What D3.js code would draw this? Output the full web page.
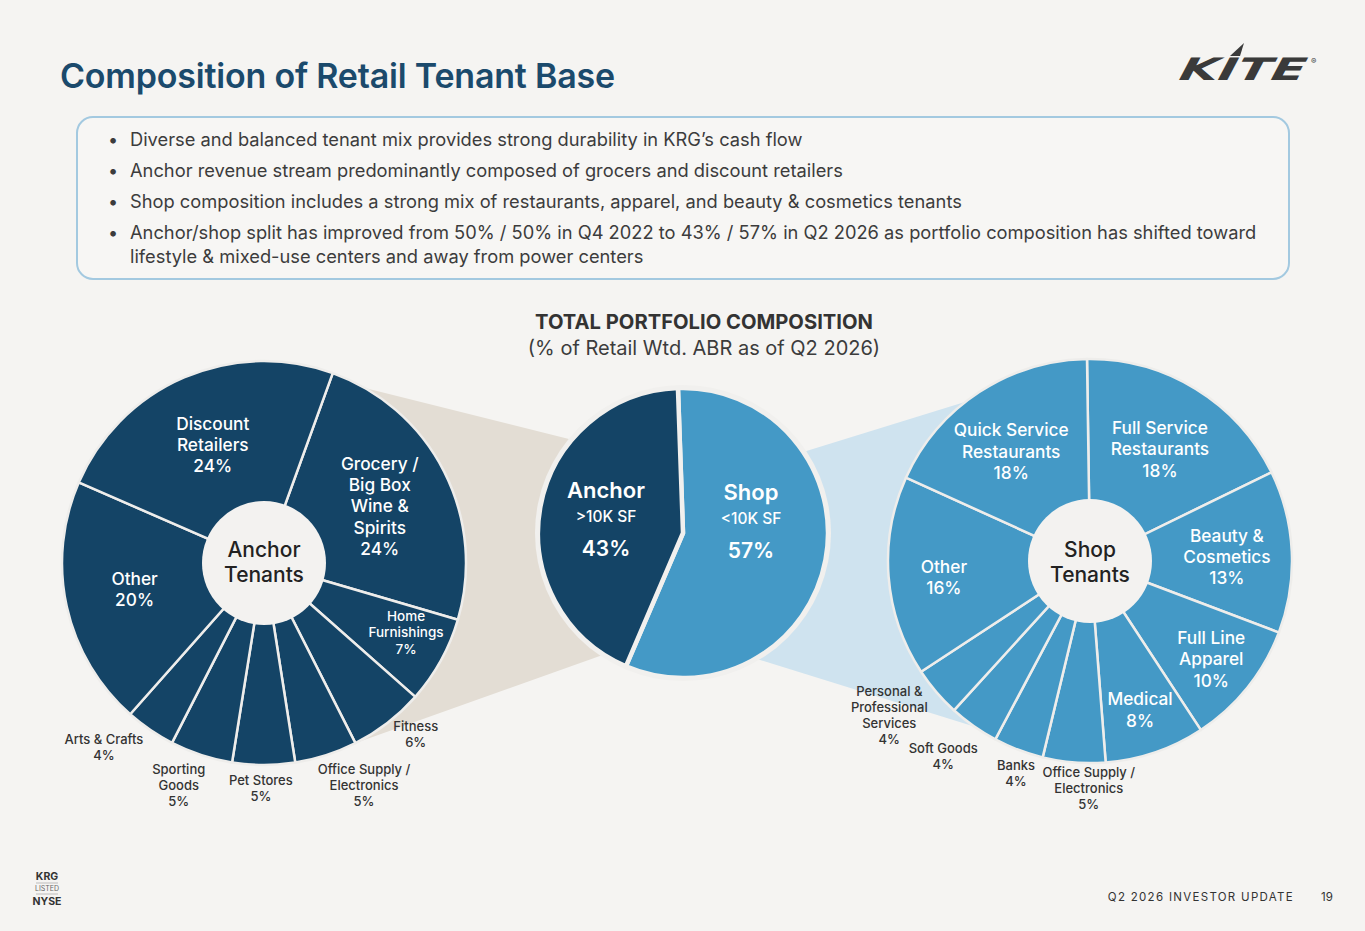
<!DOCTYPE html>
<html><head><meta charset="utf-8">
<script src="https://cdn.jsdelivr.net/npm/d3@7"></script>
<style>
html,body{margin:0;padding:0;background:#f5f4f2;}
svg{display:block;font-family:Inter,"Open Sans",sans-serif;}
</style></head>
<body><svg id="c" width="1365" height="931"></svg>
<script>
// ---------- data ----------
const titleText = "Composition of Retail Tenant Base";
const bullets = [
  ["Diverse and balanced tenant mix provides strong durability in KRG\u2019s cash flow"],
  ["Anchor revenue stream predominantly composed of grocers and discount retailers"],
  ["Shop composition includes a strong mix of restaurants, apparel, and beauty & cosmetics tenants"],
  ["Anchor/shop split has improved from 50% / 50% in Q4 2022 to 43% / 57% in Q2 2026 as portfolio composition has shifted toward","lifestyle & mixed-use centers and away from power centers"]
];
const splitNames = ["Shop", "Anchor"];
const splitSub = ["<10K SF", ">10K SF"];
const splitValues = [57, 43];

const anchorNames = ["Grocery / Big Box Wine & Spirits","Home Furnishings","Fitness","Office Supply / Electronics","Pet Stores","Sporting Goods","Arts & Crafts","Other","Discount Retailers"];
const anchorLines = [["Grocery /","Big Box","Wine &","Spirits"],["Home","Furnishings"],["Fitness"],["Office Supply /","Electronics"],["Pet Stores"],["Sporting","Goods"],["Arts & Crafts"],["Other"],["Discount","Retailers"]];
const anchorValues = [24,7,6,5,5,5,4,20,24];

const shopNames = ["Full Service Restaurants","Beauty & Cosmetics","Full Line Apparel","Medical","Office Supply / Electronics","Banks","Soft Goods","Personal & Professional Services","Other","Quick Service Restaurants"];
const shopLines = [["Full Service","Restaurants"],["Beauty &","Cosmetics"],["Full Line","Apparel"],["Medical"],["Office Supply /","Electronics"],["Banks"],["Soft Goods"],["Personal &","Professional","Services"],["Other"],["Quick Service","Restaurants"]];
const shopValues = [18,13,10,8,5,4,4,4,16,18];

// ---------- layout / style ----------
const C = {bg:"#f5f4f2", navy:"#144466", blue:"#4499c6", beige:"#e3ddd4", lightBlue:"#cfe3ef", title:"#1b4a6c", text:"#3c3c3c", inner:"#f3f2f0"};
const deg = Math.PI/180;
const L = {cx:264, cy:563, r:202, ri:62, start:19.9*deg};
const R = {cx:1090, cy:561, r:202, ri:62, start:-0.85*deg};
const M = {cx:683, cy:533, r:145, start:-2*deg};
// label polar placement [angle deg, radius, font size, inside?]
const anchorLab = [[63.8,129,17.3,1],[116,158,13.5,1],[138.5,229,13,0],[155.8,244,13,0],[180.8,225,13,0],[201,238,13,0],[221,244,13,0],[258.6,132,17.3,1],[336.6,129,17.3,1]];
const shopLab = [[32,132,17.3,1],[88.3,137,17.3,1],[129,156,17.3,1],[161.4,157,17.3,1],[180.3,227,13,0],[199.2,225,13,0],[217,244,13,0],[232.5,253,13,0],[263.7,147,17.3,1],[324.3,135,17.3,1]];

const svg = d3.select("#c");
svg.append("rect").attr("width",1365).attr("height",931).attr("fill",C.bg);

// title
svg.append("text").attr("x",60).attr("y",88).attr("fill",C.title)
  .attr("font-size",34).attr("font-weight",600).attr("letter-spacing",-0.2).text(titleText);

// logo
const logo = svg.append("g").attr("transform","translate(1178,80)");
logo.append("text").attr("x",0).attr("y",0).attr("font-family","DejaVu Sans").attr("font-weight",900)
  .attr("font-style","italic").attr("font-size",31).attr("fill","#3a3a3a")
  .attr("textLength",126).attr("lengthAdjust","spacingAndGlyphs").attr("transform","skewX(-12)").text("KITE");
logo.append("path").attr("d","M52,-24 L66,-37 L62,-24 Z").attr("fill","#3a3a3a");
logo.append("text").attr("x",133).attr("y",-16).attr("font-size",8).attr("fill","#3a3a3a").text("\u00ae");

// bullet box
svg.append("rect").attr("x",77).attr("y",117).attr("width",1212).attr("height",162).attr("rx",16)
  .attr("fill","#f7f6f4").attr("stroke","#a3c9e0").attr("stroke-width",2);
const by = [146,177,208,239];
bullets.forEach((b,i)=>{
  svg.append("text").attr("x",108).attr("y",by[i]).attr("font-size",18).attr("fill",C.text).text("\u2022");
  b.forEach((ln,j)=>{
    svg.append("text").attr("x",130).attr("y",by[i]+j*24).attr("font-size",18.3).attr("fill",C.text)
      .attr("font-weight",400).text(ln);
  });
});

// subtitle
svg.append("text").attr("x",704).attr("y",329).attr("text-anchor","middle").attr("font-size",20.2)
  .attr("font-weight",700).attr("fill","#333").text("TOTAL PORTFOLIO COMPOSITION");
svg.append("text").attr("x",704).attr("y",355).attr("text-anchor","middle").attr("font-size",20)
  .attr("fill","#3c3c3c").text("(% of Retail Wtd. ABR as of Q2 2026)");

// connectors
function pt(c,ang,r){return [c.cx+r*Math.sin(ang*deg), c.cy-r*Math.cos(ang*deg)];}
svg.append("path").attr("fill",C.beige)
  .attr("d",d3.line()([pt(L,30,L.r),pt(M,-50,M.r),pt(M,213,M.r),pt(L,153,L.r),[L.cx,L.cy]]));
svg.append("path").attr("fill",C.lightBlue)
  .attr("d",d3.line()([pt(M,56,M.r),pt(R,322,R.r),[R.cx,R.cy],pt(R,215,R.r),pt(M,150,M.r)]));

// generic pie drawer
function drawPie(c, values, color, stroke, sw){
  const pie = d3.pie().sort(null).value(d=>d).startAngle(c.start).endAngle(c.start+2*Math.PI);
  const arc = d3.arc().innerRadius(0).outerRadius(c.r);
  const g = svg.append("g").attr("transform",`translate(${c.cx},${c.cy})`);
  g.selectAll("path").data(pie(values)).join("path").attr("d",arc)
    .attr("fill",color).attr("stroke",stroke).attr("stroke-width",sw).attr("stroke-linejoin","round");
  return g;
}

// left pie
const gl = drawPie(L, anchorValues, C.navy, "#eeedeb", 2.5);
gl.append("circle").attr("r",L.ri).attr("fill",C.inner);
gl.append("text").attr("text-anchor","middle").attr("font-size",21).attr("font-weight",500).attr("fill","#222")
  .selectAll("tspan").data(["Anchor","Tenants"]).join("tspan").attr("x",0).attr("y",(d,i)=>-6+i*25).text(d=>d);

// right pie
const gr = drawPie(R, shopValues, C.blue, "#eeedeb", 2.5);
gr.append("circle").attr("r",R.ri).attr("fill",C.inner);
gr.append("text").attr("text-anchor","middle").attr("font-size",21).attr("font-weight",500).attr("fill","#222")
  .selectAll("tspan").data(["Shop","Tenants"]).join("tspan").attr("x",0).attr("y",(d,i)=>-4+i*25).text(d=>d);

// center pie
const gm = svg.append("g").attr("transform",`translate(${M.cx},${M.cy})`);
gm.append("circle").attr("r",M.r+3).attr("fill","#f1f0ee");
const mpie = d3.pie().sort(null).value(d=>d).startAngle(M.start).endAngle(M.start+2*Math.PI);
gm.selectAll("path.s").data(mpie(splitValues)).join("path").attr("class","s")
  .attr("d",d3.arc().innerRadius(0).outerRadius(M.r))
  .attr("fill",(d,i)=>i===0?C.blue:C.navy).attr("stroke","#f1f0ee").attr("stroke-width",4.5).attr("stroke-linejoin","round");
const mpos = [[68,-33],[-77,-35]];
splitNames.forEach((n,i)=>{
  const t = gm.append("text").attr("text-anchor","middle").attr("fill","#fff");
  t.append("tspan").attr("x",mpos[i][0]).attr("y",mpos[i][1]).attr("font-size",22).attr("font-weight",600).text(n);
  t.append("tspan").attr("x",mpos[i][0]).attr("y",mpos[i][1]+24).attr("font-size",15.5).attr("font-weight",500).text(splitSub[i]);
  t.append("tspan").attr("x",mpos[i][0]).attr("y",mpos[i][1]+58).attr("font-size",21).attr("font-weight",600).text(splitValues[i]+"%");
});

// slice labels
function labels(c, lines, values, lay){
  lines.forEach((ls,i)=>{
    const [a,r,fs,inside] = lay[i];
    const p = pt(c,a,r);
    const all = ls.concat([values[i]+"%"]);
    const lh = fs*1.23;
    const y0 = p[1] - (all.length-1)*lh/2 + fs*0.36;
    const t = svg.append("text").attr("text-anchor","middle").attr("font-size",fs)
      .attr("font-weight",500).attr("fill",inside?"#fff":"#333");
    all.forEach((s,j)=>t.append("tspan").attr("x",p[0]).attr("y",y0+j*lh).text(s));
  });
}
labels(L, anchorLines, anchorValues, anchorLab);
labels(R, shopLines, shopValues, shopLab);

// footer
const f = svg.append("g").attr("font-family","Inter").attr("fill","#333");
f.append("text").attr("x",47).attr("y",880).attr("text-anchor","middle").attr("font-size",10.5).attr("font-weight",700).text("KRG");
f.append("line").attr("x1",36).attr("x2",58).attr("y1",883).attr("y2",883).attr("stroke","#999").attr("stroke-width",0.6);
f.append("text").attr("x",47).attr("y",891).attr("text-anchor","middle").attr("font-size",7).attr("fill","#666").text("LISTED");
f.append("line").attr("x1",36).attr("x2",58).attr("y1",894).attr("y2",894).attr("stroke","#999").attr("stroke-width",0.6);
f.append("text").attr("x",47).attr("y",905).attr("text-anchor","middle").attr("font-size",10.5).attr("font-weight",700).text("NYSE");
f.append("text").attr("x",1294).attr("y",901).attr("text-anchor","end").attr("font-size",11.5).attr("letter-spacing",1.3).text("Q2 2026 INVESTOR UPDATE");
f.append("text").attr("x",1327).attr("y",901).attr("text-anchor","middle").attr("font-size",11.5).text("19");
</script></body></html>
